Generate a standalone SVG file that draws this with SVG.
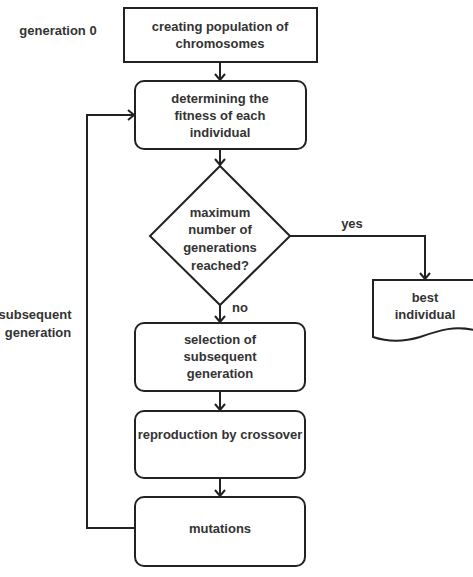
<svg xmlns="http://www.w3.org/2000/svg" width="473" height="577" viewBox="0 0 473 577">
<defs>
<style>
.n{fill:#fff;stroke:#222;stroke-width:2}
.t{font-family:"Liberation Sans",Arial,sans-serif;font-weight:bold;font-size:13px;fill:#333;text-anchor:middle;dominant-baseline:central}
.c{fill:none;stroke:#222;stroke-width:2}
</style>
<marker id="ah" viewBox="0 0 12 12" refX="11" refY="6" markerWidth="12" markerHeight="12" markerUnits="userSpaceOnUse" orient="auto">
<path d="M5,1 L11,6 L5,11" fill="none" stroke="#222" stroke-width="2"/>
</marker>
</defs>
<rect width="473" height="577" fill="#fff"/>
<g id="connectors">
<path class="c" d="M220,62 V80" marker-end="url(#ah)"/>
<path class="c" d="M220,149 V165" marker-end="url(#ah)"/>
<path class="c" d="M290,236 H425 V279" marker-end="url(#ah)"/>
<path class="c" d="M220,305 V322" marker-end="url(#ah)"/>
<path class="c" d="M220,391 V410" marker-end="url(#ah)"/>
<path class="c" d="M220,478 V496" marker-end="url(#ah)"/>
<path class="c" d="M135,528 H87 V115 H134" marker-end="url(#ah)"/>
</g>
<g id="label-gen0"><text class="t" x="58" y="30">generation 0</text></g>
<g id="label-subseq"><text class="t" x="35" y="314">subsequent</text><text class="t" x="38" y="332">generation</text></g>
<g id="label-yes"><text class="t" x="352" y="223">yes</text></g>
<g id="label-no"><text class="t" x="240" y="307">no</text></g>
<g id="n-create">
<rect class="n" x="124" y="8" width="193" height="54"/>
<text class="t" x="220" y="26">creating population of</text>
<text class="t" x="220" y="43">chromosomes</text>
</g>
<g id="n-fitness">
<rect class="n" x="135" y="81" width="171" height="68" rx="9"/>
<text class="t" x="220" y="98">determining the</text>
<text class="t" x="220" y="115">fitness of each</text>
<text class="t" x="220" y="132">individual</text>
</g>
<g id="n-decision">
<path class="n" d="M220,166 L290,236 L220,305 L150,236 Z"/>
<text class="t" x="220" y="212">maximum</text>
<text class="t" x="220" y="229">number of</text>
<text class="t" x="220" y="247">generations</text>
<text class="t" x="220" y="265">reached?</text>
</g>
<g id="n-best">
<path class="n" d="M373,280 H478 V331 C455,325 440,330 420,337 C400,343 385,341 373,337 Z"/>
<text class="t" x="425" y="297">best</text>
<text class="t" x="425" y="314">individual</text>
</g>
<g id="n-selection">
<rect class="n" x="135" y="323" width="170" height="68" rx="9"/>
<text class="t" x="220" y="339">selection of</text>
<text class="t" x="220" y="356">subsequent</text>
<text class="t" x="220" y="373">generation</text>
</g>
<g id="n-reproduction">
<rect class="n" x="135" y="411" width="170" height="67" rx="9"/>
<text class="t" x="220" y="434">reproduction by crossover</text>
</g>
<g id="n-mutations">
<rect class="n" x="135" y="497" width="170" height="69" rx="9"/>
<text class="t" x="220" y="528">mutations</text>
</g>
</svg>
